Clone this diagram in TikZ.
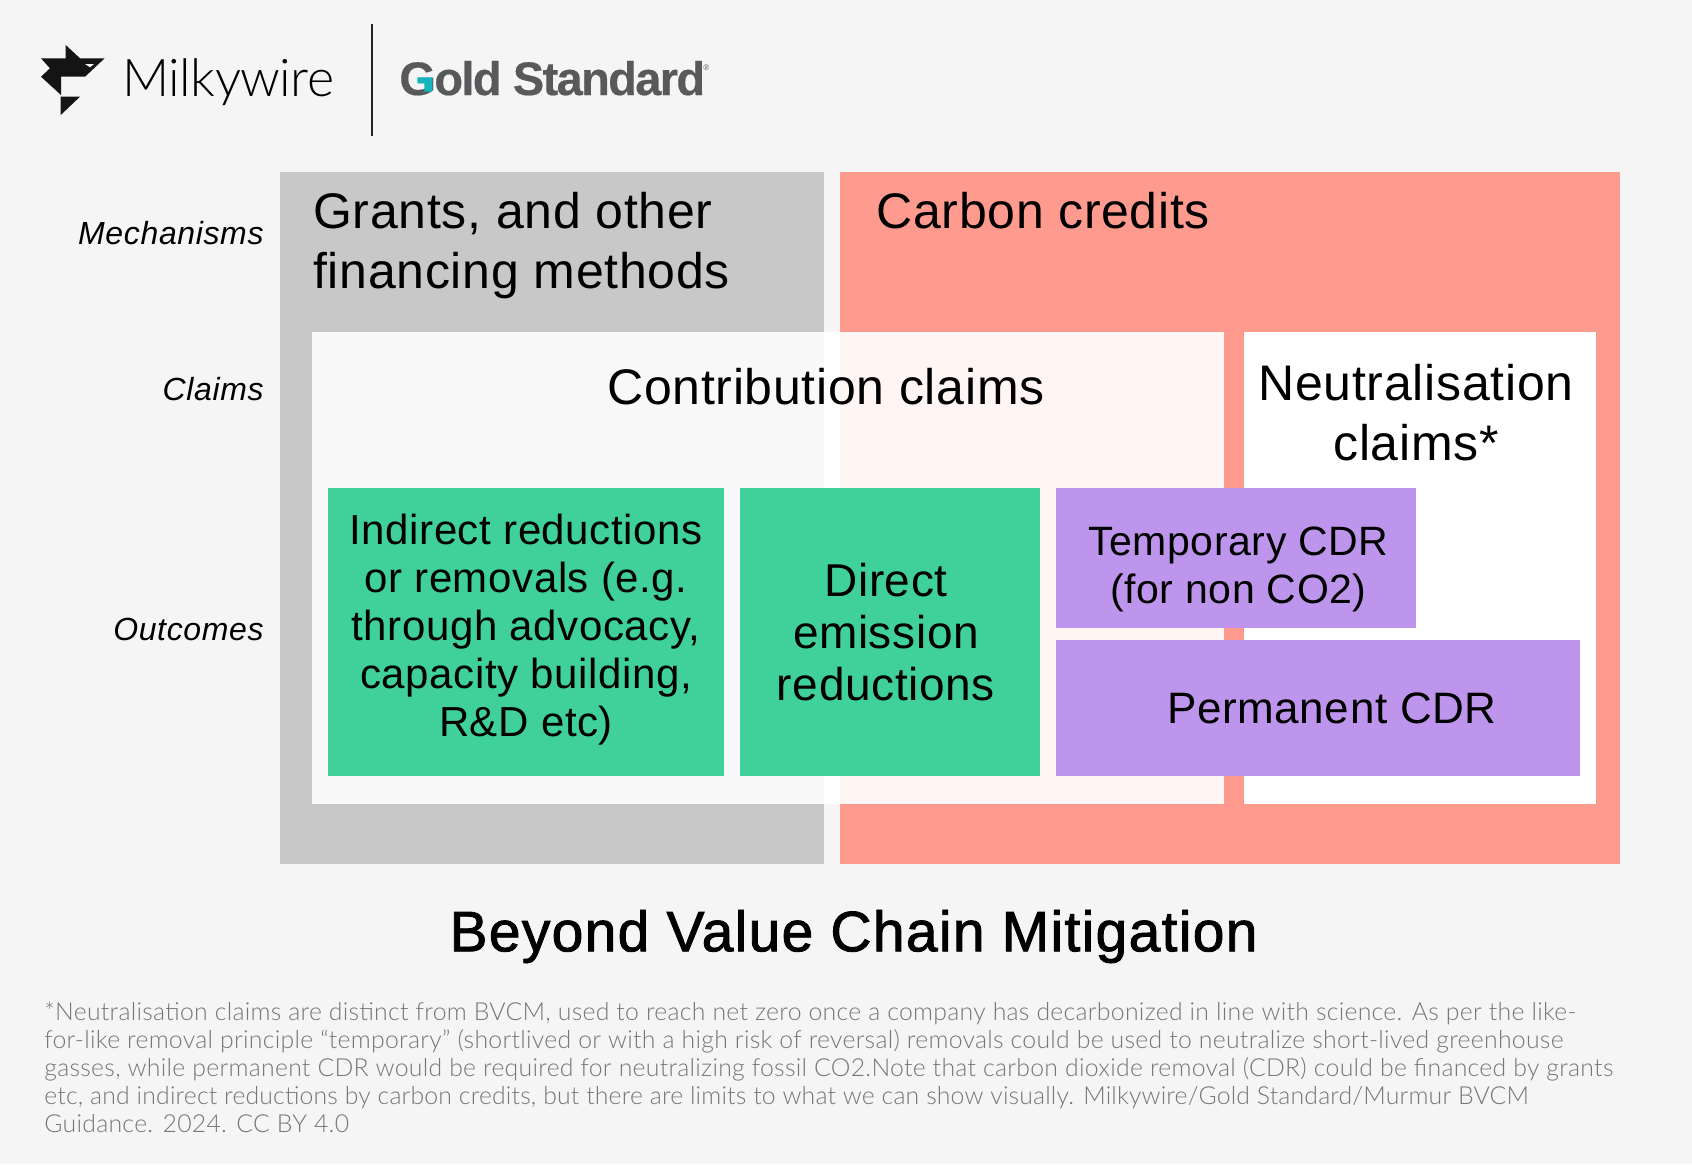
\documentclass[tikz,border=0pt]{standalone}
\usepackage{fontspec}
\setmainfont{Liberation Sans}[LetterSpace=1.4]
\newfontfamily\lightfont{Lato Light}[LetterSpace=1.1]
\newfontfamily\milkyfont{Lato Light}[LetterSpace=-1]
\newfontfamily\goldfont{Liberation Sans Bold}[LetterSpace=-3.5, FakeBold=0.4]
\newfontfamily\titlefont{Liberation Sans}[LetterSpace=2.3, FakeBold=1.5]
\newfontfamily\sidefont{Liberation Sans Italic}[LetterSpace=2]
\usetikzlibrary{positioning}
\definecolor{pagebg}{HTML}{F5F5F5}
\definecolor{grantgrey}{HTML}{C8C8C8}
\definecolor{creditred}{HTML}{FF9A8E}
\definecolor{outgreen}{HTML}{40D099}
\definecolor{outpurple}{HTML}{BE95EC}
\definecolor{goldgrey}{HTML}{58595B}
\definecolor{goldteal}{HTML}{12B5BE}
\definecolor{notegrey}{HTML}{767676}
\begin{document}
\begin{tikzpicture}[x=0.5pt, y=-0.5pt]
  \tikzset{
    box/.style 2 args={anchor=north west, inner sep=0pt, outer sep=0pt, minimum width=#1*0.5pt, minimum height=#2*0.5pt},
    outlab/.style={align=center, inner sep=0pt, font=\fontsize{21}{24}\selectfont},
    widelab/.style={align=center, inner sep=0pt, font=\fontsize{23}{26}\selectfont},
    biglab/.style={align=left, inner sep=0pt, font=\fontsize{25}{30}\selectfont},
    sidelab/.style={anchor=east, inner sep=0pt, font=\fontsize{16}{19}\selectfont\sidefont}
  }
  \fill[pagebg] (0,0) rectangle (1692,1164);
  \useasboundingbox (0,0) rectangle (1692,1164);
  % logos
  \fill[black!92] (65.7,45) -- (80,58.3) -- (104.7,58.3) -- (85,76.7) -- (61,76.7) -- (61,95) -- (41,76.7) -- (50,68.3) -- (41,58.3) -- (65.7,58.3) -- cycle;
  \fill[pagebg] (85,64) -- (94,64) -- (90,67.3) -- cycle;
  \fill[black!92] (60.7,96.7) -- (80,96.7) -- (60.7,115) -- cycle;
  \node[anchor=base west, inner sep=0pt, font=\fontsize{26}{30}\selectfont\milkyfont] (milky) at (122,96) {Milkywire};
  \coordinate (ruletop) at (372,24);
  \coordinate (rulebot) at (372,136);
  \draw[line width=0.6pt, black!85] (ruletop) -- (rulebot);
  \node[anchor=base west, inner sep=0pt, text=goldgrey, font=\fontsize{23.5}{28}\selectfont\goldfont] (gold) at (399,95) {Gold Standard};
  \node[anchor=base west, inner sep=0pt, text=goldgrey, font=\fontsize{4}{5}\selectfont] (goldreg) at (703,70) {®};
  \fill[goldteal] (417.3,77.3) -- (432.3,77.3) -- (432.3,91.7) -- (424.3,91.7) -- (424.3,83.3) -- (417.3,83.3) -- cycle;
  % mechanisms
  \node[box={544}{692}, fill=grantgrey] (grants) at (280,172) {};
  \node[box={780}{692}, fill=creditred] (credits) at (840,172) {};
  % claims
  \node[box={912}{472}, fill=white, fill opacity=0.9] (contrib) at (312,332) {};
  \node[box={352}{472}, fill=white] (neutral) at (1244,332) {};
  % outcomes
  \node[box={396}{288}, fill=outgreen] (indirect) at (328,488) {};
  \node[box={300}{288}, fill=outgreen] (direct) at (740,488) {};
  \node[box={360}{140}, fill=outpurple] (temp) at (1056,488) {};
  \node[box={524}{136}, fill=outpurple] (perm) at (1056,640) {};
  % labels
  \node[biglab, anchor=north west] (grantlab) at (313,191.5) {Grants, and other\\financing methods};
  \node[biglab, anchor=base west] (creditlab) at (876,228) {Carbon credits};
  \node[biglab, anchor=base] (contriblab) at (826,404) {Contribution claims};
  \node[biglab, align=center, anchor=north] (neutrallab) at (1416,363.5) {Neutralisation\\claims*};
  \node[outlab] (indirectlab) at (526,630) {Indirect reductions\\or removals (e.g.\\through advocacy,\\capacity building,\\R\&D etc)};
  \node[widelab] (directlab) at (886,632) {Direct\\emission\\reductions};
  \node[outlab, font=\fontsize{20.5}{24}\selectfont] (templab) at (1238.5,569.5) {Temporary CDR\\(for non CO2)};
  \node[widelab, font=\fontsize{22}{26}\selectfont] (permlab) at (1332,708) {Permanent CDR};
  \node[sidelab] (mechlab) at (264,233) {Mechanisms};
  \node[sidelab] (claimlab) at (264,389) {Claims};
  \node[sidelab] (outcomelab) at (264,629) {Outcomes};
  % title and note
  \node[inner sep=0pt, font=\fontsize{28.5}{32}\selectfont\titlefont] (title) at (853.6,936.5) {Beyond Value Chain Mitigation};
  \node[anchor=west, inner sep=0pt, align=left, text=notegrey, font=\fontsize{12.4}{14}\selectfont\lightfont] (note) at (44,1067) {*Neutralisation claims are distinct from BVCM, used to reach net zero once a company has decarbonized in line with science. As per the like-\\for-like removal principle “temporary” (shortlived or with a high risk of reversal) removals could be used to neutralize short-lived greenhouse\\gasses, while permanent CDR would be required for neutralizing fossil CO2.Note that carbon dioxide removal (CDR) could be financed by grants\\\addfontfeature{LetterSpace=0.6}etc, and indirect reductions by carbon credits, but there are limits to what we can show visually. Milkywire/Gold Standard/Murmur BVCM\\Guidance. 2024. CC BY 4.0};
\end{tikzpicture}
\end{document}
